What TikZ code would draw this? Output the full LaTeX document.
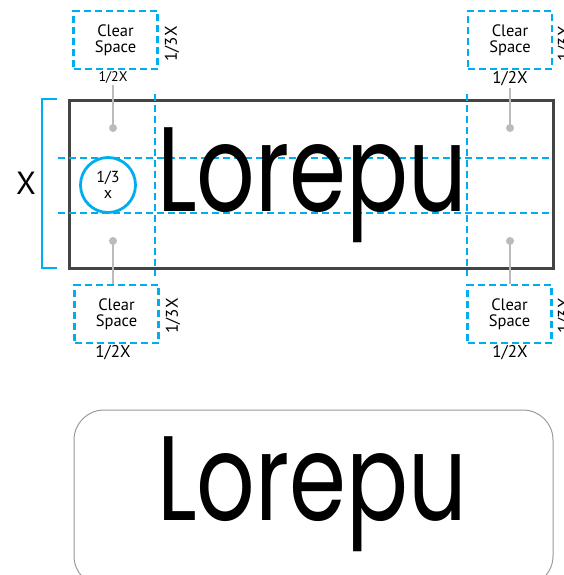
\documentclass[tikz,border=0pt]{standalone}
\usepackage{fontspec}
\usepackage{graphicx}
\setmainfont{PT Sans}
\newfontfamily\logofont{Poppins}
\definecolor{guide}{HTML}{00AEEF}
\definecolor{frame}{HTML}{444444}
\definecolor{dotgray}{HTML}{BBBBBB}
\definecolor{roundgray}{HTML}{9A9A9A}
\begin{document}
\begin{tikzpicture}[x=1pt,y=-1pt,
  guideline/.style={draw=guide,line width=2.8pt,dash pattern=on 7pt off 4pt},
  spacebox/.style={guideline,minimum width=84pt,minimum height=58pt,inner sep=0pt,align=center,
    font=\fontsize{16.5}{16}\selectfont},
  dimlabel/.style={inner sep=0pt,font=\fontsize{17}{17}\selectfont},
  smalllabel/.style={inner sep=0pt,font=\fontsize{14}{14}\selectfont},
  graydot/.style={circle,fill=dotgray,minimum size=8pt,inner sep=0pt},
  leader/.style={draw=dotgray,line width=1.2pt},
  logotext/.style={inner sep=0pt}
]
\useasboundingbox (0,0) rectangle (563,575);
\clip (0,0) rectangle (563,575);

% main frame
\node[draw=frame,line width=3pt,minimum width=484pt,minimum height=167pt,inner sep=0pt] (frame) at (311,184.5) {};

% guide lines
\coordinate (hl1) at (58,158); \coordinate (hr1) at (553,158);
\coordinate (hl2) at (58,213); \coordinate (hr2) at (553,213);
\coordinate (vt1) at (155,94); \coordinate (vb1) at (155,276);
\coordinate (vt2) at (467,94); \coordinate (vb2) at (467,276);
\draw[guideline] (hl1) -- (hr1);
\draw[guideline] (hl2) -- (hr2);
\draw[guideline] (vt1) -- (vb1);
\draw[guideline] (vt2) -- (vb2);

% logo text
\node[logotext,anchor=south west] (logo1) at (157,243) {\resizebox*{310pt}{115pt}{\logofont Lorepu}};

% bracket and X
\coordinate (bt) at (57,99); \coordinate (bb) at (57,268);
\draw[draw=guide,line width=2.8pt] (bt) -- (42,99) -- (42,268) -- (bb);
\node[inner sep=0pt,font=\fontsize{32}{32}\selectfont] (xlab) at (26,183) {X};

% circle
\node[circle,draw=guide,line width=2.8pt,minimum size=55pt,inner sep=0pt,align=center,
  font=\fontsize{16}{16}\selectfont] (circ) at (108,185) {1/3\\x};

% clear space boxes
\node[spacebox] (csTL) at (115.5,40) {Clear\\Space};
\node[spacebox] (csTR) at (510,40) {Clear\\Space};
\node[spacebox] (csBL) at (116.5,314) {Clear\\Space};
\node[spacebox] (csBR) at (509.5,314) {Clear\\Space};

% dimension labels
\node[smalllabel] (hTL) at (113,77) {1/2X};
\node[dimlabel] (hTR) at (510,79) {1/2X};
\node[dimlabel] (hBL) at (113,353) {1/2X};
\node[dimlabel] (hBR) at (510,353) {1/2X};
\node[dimlabel,rotate=90] (vTL) at (172,44) {1/3X};
\node[dimlabel,rotate=90] (vBL) at (173,316) {1/3X};
\node[dimlabel,rotate=90] (vTR) at (565,44) {1/3X};
\node[dimlabel,rotate=90] (vBR) at (565,316) {1/3X};

% gray dots and leaders
\node[graydot] (dTL) at (113,128) {};
\node[graydot] (dBL) at (113,241) {};
\node[graydot] (dTR) at (510,128) {};
\node[graydot] (dBR) at (510,241) {};
\draw[leader] (hTL.south) ++(0,2) coordinate (lTL) -- (dTL.center);
\draw[leader] (hTR.south) ++(0,2) coordinate (lTR) -- (dTR.center);
\draw[leader] (dBL.center) -- (csBL.north -| dBL);
\draw[leader] (dBR.center) -- (csBR.north -| dBR);

% bottom rounded version
\node[draw=roundgray,line width=1pt,rounded corners=30pt,minimum width=479pt,minimum height=176pt,inner sep=0pt] (rbox) at (313.5,498) {};
\node[logotext,anchor=south west] (logo2) at (157,552) {\resizebox*{310pt}{115pt}{\logofont Lorepu}};
\end{tikzpicture}
\end{document}
